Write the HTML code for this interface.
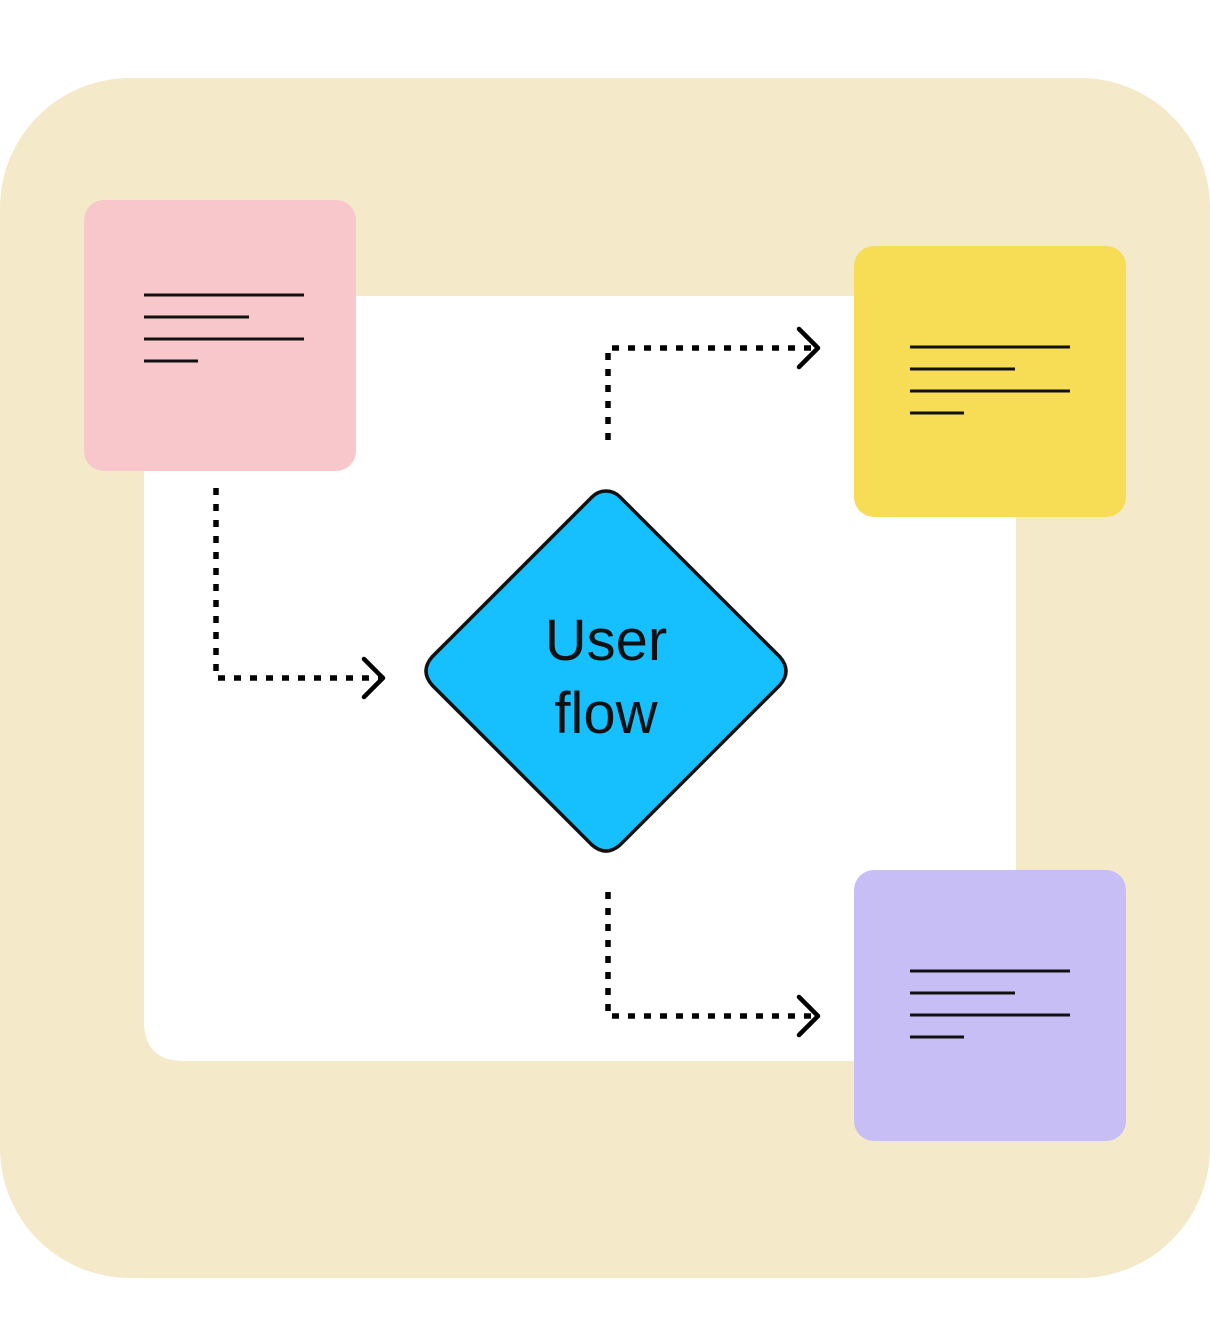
<!DOCTYPE html>
<html><head><meta charset="utf-8"><style>html,body{margin:0;padding:0;background:#fff}svg{display:block}</style></head>
<body>
<svg width="1210" height="1342" viewBox="0 0 1210 1342" xmlns="http://www.w3.org/2000/svg">
<rect x="0" y="78" width="1210" height="1200" rx="130" fill="#F4EACA"/>
<path d="M144 296 H1016 V1061 H184 Q144 1061 144 1021 Z" fill="#fff"/>
<rect x="84" y="200" width="272" height="271" rx="20" fill="#F7C7CB"/>
<rect x="854" y="246" width="272" height="271" rx="20" fill="#F7DC56"/>
<rect x="854" y="870" width="272" height="271" rx="20" fill="#C6BEF5"/>
<g stroke="#111" stroke-width="3">
<line x1="144" y1="295" x2="304" y2="295"/><line x1="144" y1="317" x2="249" y2="317"/><line x1="144" y1="339" x2="304" y2="339"/><line x1="144" y1="361" x2="198" y2="361"/>
<line x1="910" y1="347" x2="1070" y2="347"/><line x1="910" y1="369" x2="1015" y2="369"/><line x1="910" y1="391" x2="1070" y2="391"/><line x1="910" y1="413" x2="964" y2="413"/>
<line x1="910" y1="971" x2="1070" y2="971"/><line x1="910" y1="993" x2="1015" y2="993"/><line x1="910" y1="1015" x2="1070" y2="1015"/><line x1="910" y1="1037" x2="964" y2="1037"/>
</g>
<path d="M606 491 Q614 491 620 497 L780 657 Q792 671 780 685 L620 845 Q606 857 592 845 L432 685 Q420 671 432 657 L592 497 Q598 491 606 491 Z" fill="#16C0FF" stroke="#111" stroke-width="3.5"/>
<text x="606" y="660" text-anchor="middle" font-family="Liberation Sans, sans-serif" font-size="58" fill="#111">User</text>
<text x="606" y="733" text-anchor="middle" font-family="Liberation Sans, sans-serif" font-size="58" fill="#111">flow</text>
<g fill="none" stroke="#000" stroke-width="5.5" stroke-dasharray="7 9">
<path d="M216 488 V678 H380"/>
<path d="M608 440 V348 H816"/>
<path d="M608 892 V1016 H816"/>
</g>
<g fill="none" stroke="#000" stroke-width="4.5" stroke-linecap="round" stroke-linejoin="round">
<path d="M364 659 L383 678 L364 697"/>
<path d="M799 329 L818 348 L799 367"/>
<path d="M799 997 L818 1016 L799 1035"/>
</g>
</svg>
</body></html>
